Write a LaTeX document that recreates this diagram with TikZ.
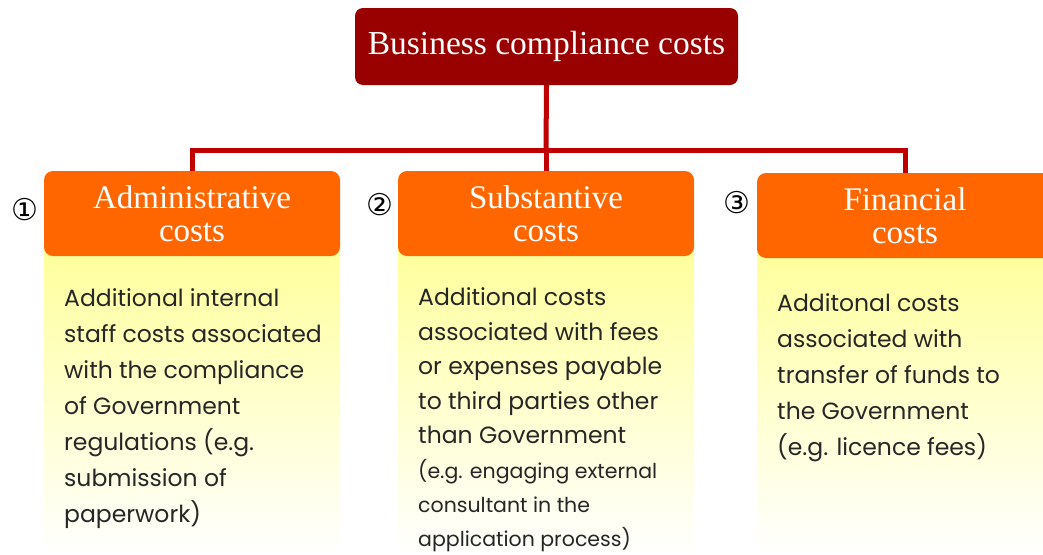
\documentclass[tikz,border=0pt]{standalone}
\usepackage{fontspec}
\setmainfont{Liberation Serif}
\newfontfamily\bodyfont{Poppins}
\newfontfamily\symfont{DejaVu Sans}
\definecolor{titlered}{HTML}{990000}
\definecolor{connred}{HTML}{C00000}
\definecolor{headorange}{HTML}{FF6600}
\definecolor{panelyellow}{HTML}{FFFF99}
\tikzset{
  titlebox/.style={fill=titlered, rounded corners=8pt, text=white, minimum width=383pt, minimum height=77pt, inner sep=0pt, font=\fontsize{33.5}{38}\selectfont},
  headbox/.style={fill=headorange, rounded corners=9pt, text=white, minimum width=296pt, minimum height=85pt, inner sep=0pt, align=center, font=\fontsize{33}{33}\selectfont},
  panel/.style={top color=panelyellow, bottom color=white, middle color=panelyellow!50, draw=none},
  conn/.style={draw=connred, line width=5pt},
  bodytext/.style={anchor=north west, inner sep=0pt, align=left, text=black!85, font=\bodyfont\fontsize{23.5}{36}\selectfont},
  numlabel/.style={inner sep=0pt, font=\symfont\fontsize{30}{30}\selectfont}
}
\begin{document}
\begin{tikzpicture}[x=1pt,y=-1pt]
\useasboundingbox (0,0) rectangle (1043,554);
\clip (0,0) rectangle (1043,554);
% panels
\shade[panel] (44,240) rectangle (340,554);
\shade[panel] (398,240) rectangle (694,554);
\shade[panel] (757,240) rectangle (1053,554);
% title and headers
\node[titlebox] (title) at (546.5,46.5) {Business compliance costs};
\node[headbox] (h1) at (192,213.5) {Administrative\\costs};
\node[headbox] (h2) at (546,213.5) {Substantive\\costs};
\node[headbox] (h3) at (905,215.5) {Financial\\costs};
% connectors
\coordinate (bus) at (546,150);
\draw[conn] (title.south) -- (bus);
\draw[conn] (h1.north) |- (bus) -| (h3.north);
\draw[conn] (bus) -- (h2.north);
% numbers
\node[numlabel] (n1) at (25,210) {①};
\node[numlabel] (n2) at (380,205) {②};
\node[numlabel] (n3) at (737,203) {③};
% body texts
\node[bodytext] (t1) at (64,288) {Additional internal\\staff costs associated\\with the compliance\\of Government\\regulations (e.g.\\submission of\\paperwork)};
\node[bodytext, font=\bodyfont\fontsize{23.5}{34.6}\selectfont] (t2) at (418,287.5) {Additional costs\\associated with fees\\or expenses payable\\to third parties other\\than Government\\[-0.5pt]{\fontsize{20.5}{34.3}\selectfont (e.g. engaging external}\\[-0.5pt]{\fontsize{20.5}{34.3}\selectfont consultant in the}\\[-0.5pt]{\fontsize{20.5}{34.3}\selectfont application process)}};
\node[bodytext] (t3) at (777,293) {Additonal costs\\associated with\\transfer of funds to\\the Government\\(e.g. licence fees)};
\end{tikzpicture}
\end{document}
